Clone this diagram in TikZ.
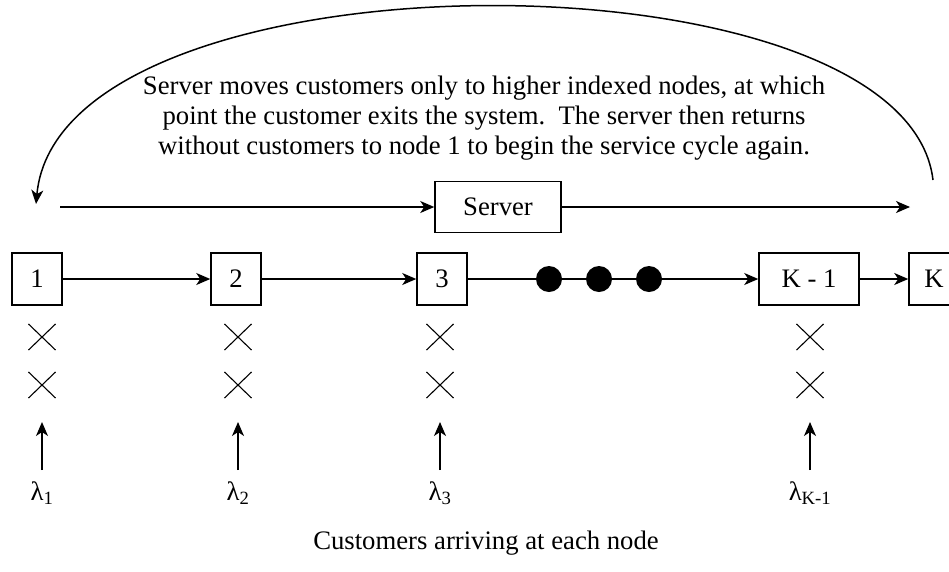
\documentclass[tikz,border=0pt]{standalone}
\usepackage{fontspec}
\setmainfont{Liberation Serif}
\usetikzlibrary{arrows.meta,shapes.misc,positioning}

\begin{document}
\begin{tikzpicture}[x=1pt,y=-1pt,line width=1.5pt,
    >={Stealth[length=14pt,width=12pt,inset=4pt]},
    font=\fontsize{26.7}{30}\selectfont]
  \useasboundingbox (0,0) rectangle (949,571);

  \tikzstyle{QueueBox}=[draw,minimum width=50pt,minimum height=52pt,inner sep=0pt]
  \tikzstyle{Cross}=[cross out,draw,line width=1.1pt,minimum width=26pt,minimum height=25pt,inner sep=0pt]
  \tikzstyle{Dot}=[circle,fill,minimum size=26pt,inner sep=0pt]
  \tikzstyle{Rate}=[anchor=north,inner sep=0pt]

  % queue nodes
  \node[QueueBox] (n1) at (37,279) {1};
  \node[QueueBox] (n2) at (236,279) {2};
  \node[QueueBox] (n3) at (442,279) {3};
  \node[QueueBox,minimum width=100pt] (nK1) at (809,279) {K - 1};
  \node[QueueBox] (nK) at (934,279) {K};

  \draw[->] (n1) -- (n2);
  \draw[->] (n2) -- (n3);
  \draw[->] (n3) -- (nK1);
  \draw[->] (nK1) -- (nK);

  \node[Dot] (dotA) at (549,279) {};
  \node[Dot] (dotB) at (599,279) {};
  \node[Dot] (dotC) at (649,279) {};

  % server path
  \node[draw,minimum width=126pt,minimum height=51pt] (srv) at (498,207) {Server};
  \coordinate (srvin) at (60,207);
  \coordinate (srvout) at (910,207);
  \draw[->] (srvin) -- (srv);
  \draw[->] (srv) -- (srvout);

  % return of the server
  \coordinate (arcstart) at (933,180);
  \coordinate (arcend) at (36,204);
  \draw[->] (arcstart) .. controls (905,-55) and (60,-55) .. (arcend);
  \node[align=center] (note) at (484,118)
    {Server moves customers only to higher indexed nodes, at which\\
     point the customer exits the system.\ \ The server then returns\\
     without customers to node 1 to begin the service cycle again.};

  % waiting customers and arrivals
  \foreach \col/\name/\lab in {42/a/1,238/b/2,440/c/3,810/d/{K-1}}{
    \node[Cross] (x1\name) at (\col,337) {};
    \node[Cross] (x2\name) at (\col,385) {};
    \coordinate (in\name) at (\col,470);
    \coordinate (top\name) at (\col,422);
    \draw[->] (in\name) -- (top\name);
    \node[Rate] (lam\name) at (\col,481) {λ\textsubscript{\lab}};
  }

  \node (arrive) at (486,543) {Customers arriving at each node};
\end{tikzpicture}
\end{document}
